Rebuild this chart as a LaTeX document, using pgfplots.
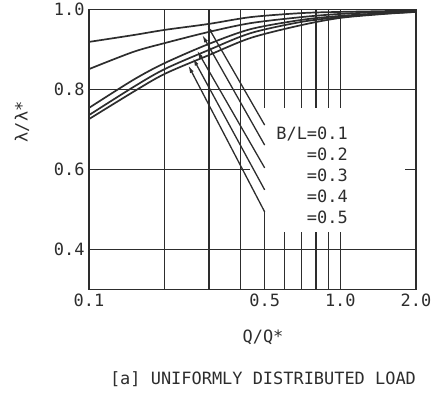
\documentclass[border=0pt]{standalone}
\usepackage{fontspec}
\setmainfont{DejaVu Sans Mono}
\usepackage{pgfplots}
\pgfplotsset{compat=1.18}
\usetikzlibrary{arrows.meta}

\definecolor{ink}{RGB}{45,45,45}

% lambda/lambda* against Q/Q* for five width ratios B/L
\pgfplotstableread{
x     c1     c2     c3     c4     c5
0.10  0.919  0.851  0.754  0.736  0.726
0.15  0.936  0.894  0.824  0.806  0.794
0.20  0.949  0.916  0.866  0.851  0.839
0.30  0.964  0.944  0.914  0.899  0.886
0.44  0.981  0.966  0.951  0.941  0.929
0.70  0.991  0.981  0.974  0.969  0.961
1.00  0.994  0.989  0.984  0.981  0.979
1.50  0.996  0.994  0.991  0.990  0.989
2.00  0.998  0.996  0.995  0.994  0.994
}\curves

\newcommand{\lblfont}{\fontsize{17}{20}\selectfont}

\begin{document}
\begin{tikzpicture}
\begin{axis}[
  xmode=log, xmin=0.1, xmax=2, ymin=0.3, ymax=1.0,
  width=327bp, height=280bp, scale only axis,
  axis line style={ink, line width=1.6bp},
  xtick={0.1,0.5,1,2}, xticklabels={0.1,0.5,1.0,2.0},
  ytick={0.4,0.6,0.8,1.0}, yticklabels={0.4,0.6,0.8,1.0},
  major tick length=0, minor tick length=0,
  tick label style={font=\lblfont, text=ink},
  yticklabel style={xshift=-1bp},
  xticklabel style={yshift=-1bp},
  clip=true,
  grd/.style={ink, line width=1.3bp, no marks, forget plot},
  crv/.style={ink, line width=1.7bp, no marks, smooth},
  arr/.style={ink, line width=1.3bp, no marks, -{Latex[length=8bp,width=4bp]}},
]
% grid, interrupted where the B/L labels sit
\addplot[grd] coordinates {(0.2,0.3) (0.2,1.0)};
\addplot[grd] coordinates {(0.3,0.3) (0.3,1.0)};
\addplot[grd] coordinates {(0.4,0.3) (0.4,1.0)};
\addplot[grd] coordinates {(0.5,1.0) (0.5,0.754)};
\addplot[grd] coordinates {(0.5,0.3) (0.5,0.494)};
\foreach \gx in {0.6,0.7,0.8,0.9,1.0} {
  \addplot[grd] coordinates {(\gx,1.0) (\gx,0.754)};
  \addplot[grd] coordinates {(\gx,0.3) (\gx,0.444)};
}
\addplot[grd] coordinates {(0.1,0.4) (2,0.4)};
\addplot[grd] coordinates {(0.1,0.8) (2,0.8)};
\addplot[grd] coordinates {(0.1,0.6) (0.438,0.6)};
\addplot[grd] coordinates {(1.81,0.6) (2,0.6)};

% curves
\addplot[crv] table[x=x, y=c1] {\curves};
\addplot[crv] table[x=x, y=c2] {\curves};
\addplot[crv] table[x=x, y=c3] {\curves};
\addplot[crv] table[x=x, y=c4] {\curves};
\addplot[crv] table[x=x, y=c5] {\curves};

% leader arrows from the labels to the curves
\addplot[arr] coordinates {(0.5,0.711) (0.295,0.961)};
\addplot[arr] coordinates {(0.5,0.661) (0.282,0.937)};
\addplot[arr] coordinates {(0.5,0.604) (0.269,0.898)};
\addplot[arr] coordinates {(0.5,0.549) (0.259,0.879)};
\addplot[arr] coordinates {(0.5,0.494) (0.248,0.861)};

% labels
\node[anchor=base east, font=\lblfont, text=ink, inner sep=0] at (rel axis cs:0.792,0.5375) {B/L=0.1};
\node[anchor=base east, font=\lblfont, text=ink, inner sep=0] at (rel axis cs:0.792,0.4625) {=0.2};
\node[anchor=base east, font=\lblfont, text=ink, inner sep=0] at (rel axis cs:0.792,0.3875) {=0.3};
\node[anchor=base east, font=\lblfont, text=ink, inner sep=0] at (rel axis cs:0.792,0.3125) {=0.4};
\node[anchor=base east, font=\lblfont, text=ink, inner sep=0] at (rel axis cs:0.792,0.2340) {=0.5};
\end{axis}
% axis titles and caption, placed around the 327 x 280 axis box
\node[font=\lblfont, text=ink, rotate=90] at (-67bp,167.5bp) {λ/λ*};
\node[font=\lblfont, text=ink] at (174bp,-47.5bp) {Q/Q*};
\node[font=\lblfont, text=ink] at (174bp,-89.5bp) {[a] UNIFORMLY DISTRIBUTED LOAD};
\pgfresetboundingbox
\path (-89bp,-103.5bp) rectangle (343bp,289.5bp);
\end{tikzpicture}
\end{document}
